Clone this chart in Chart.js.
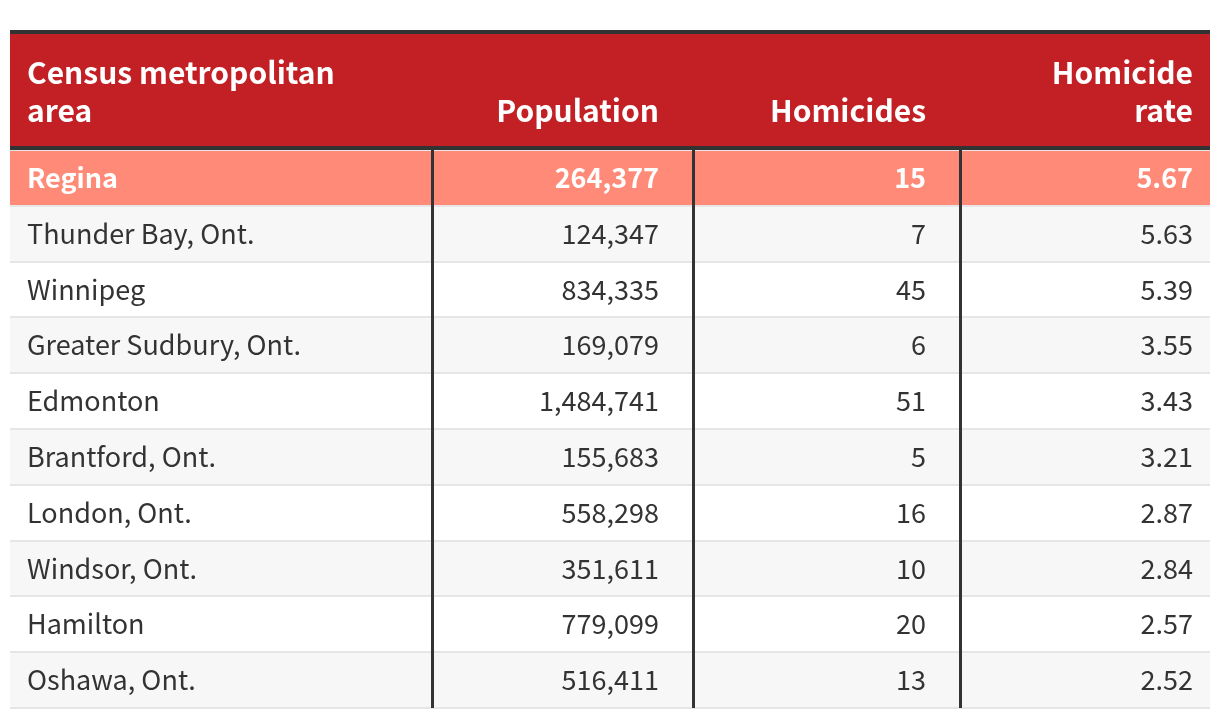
<!DOCTYPE html>
<html>
<head>
<meta charset="utf-8">
<script src="https://cdn.jsdelivr.net/npm/chart.js@4.4.0/dist/chart.umd.min.js"></script>
<style>
  html, body { margin: 0; padding: 0; background: #fff; }
</style>
</head>
<body>
<canvas id="tabela" width="1220" height="718"></canvas>
<script>
// dados da tabela
const areas = ["Regina", "Thunder Bay, Ont.", "Winnipeg", "Greater Sudbury, Ont.", "Edmonton",
  "Brantford, Ont.", "London, Ont.", "Windsor, Ont.", "Hamilton", "Oshawa, Ont."];
const populacao = [264377, 124347, 834335, 169079, 1484741, 155683, 558298, 351611, 779099, 516411];
const homicidios = [15, 7, 45, 6, 51, 5, 16, 10, 20, 13];
const taxa = [5.67, 5.63, 5.39, 3.55, 3.43, 3.21, 2.87, 2.84, 2.57, 2.52];
const cabecalhos = [["Census metropolitan", "area"], ["Population"], ["Homicides"], ["Homicide", "rate"]];
const destaque = "Regina";

// layout das colunas
const larguras = [422, 262, 266, 250];
const recuos = [17, 35, 34, 17];
const total = larguras.reduce((a, b) => a + b, 0);
const bordas = [0];
larguras.forEach((l) => bordas.push(bordas[bordas.length - 1] + l));

const FONTE = "'Noto Sans CJK JP', 'Noto Sans', sans-serif";
const ESCURO = "#333333";
const VERMELHO = "#c32026";

function textoCelula(i, c) {
  if (c === 0) return areas[i];
  if (c === 1) return populacao[i].toLocaleString("en-US");
  if (c === 2) return String(homicidios[i]);
  return taxa[i].toFixed(2);
}

function posicaoX(scale, c) {
  return c === 0 ? scale.getPixelForValue(bordas[c]) + recuos[c] : scale.getPixelForValue(bordas[c + 1]) - recuos[c];
}

const tabelaPlugin = {
  id: "tabela",
  afterDraw(chart) {
    const ctx = chart.ctx;
    const x = chart.scales.x;
    const y = chart.scales.y;
    const area = chart.chartArea;
    ctx.save();

    // cabeçalho
    ctx.fillStyle = ESCURO;
    ctx.fillRect(area.left, 30, area.right - area.left, 4);
    ctx.fillStyle = VERMELHO;
    ctx.fillRect(area.left, 34, area.right - area.left, area.top - 38);
    ctx.fillStyle = ESCURO;
    ctx.fillRect(area.left, area.top - 4, area.right - area.left, 4);

    ctx.fillStyle = "#ffffff";
    ctx.font = "bold 30px " + FONTE;
    ctx.textBaseline = "alphabetic";
    cabecalhos.forEach((linhas, c) => {
      ctx.textAlign = c === 0 ? "left" : "right";
      linhas.forEach((t, k) => {
        const base = 122 - (linhas.length - 1 - k) * 38;
        ctx.fillText(t, posicaoX(x, c), base);
      });
    });

    // células
    areas.forEach((nome, i) => {
      const py = y.getPixelForValue(i) + 10;
      const dest = nome === destaque;
      ctx.font = (dest ? "bold " : "") + "27px " + FONTE;
      ctx.fillStyle = dest ? "#ffffff" : ESCURO;
      for (let c = 0; c < 4; c++) {
        ctx.textAlign = c === 0 ? "left" : "right";
        ctx.fillText(textoCelula(i, c), posicaoX(x, c), py);
      }
    });
    ctx.restore();
  },
};

const tabela = new Chart(document.getElementById("tabela"), {
  type: "bar",
  data: {
    labels: areas,
    datasets: [
      {
        data: areas.map(() => [0, total]),
        backgroundColor: areas.map((nome, i) => (nome === destaque ? "#ff8a78" : i % 2 === 1 ? "#f7f7f7" : "#ffffff")),
        borderWidth: 0,
        barPercentage: 1,
        categoryPercentage: 1,
      },
    ],
  },
  options: {
    indexAxis: "y",
    responsive: false,
    animation: false,
    devicePixelRatio: 1,
    layout: { padding: { left: 10, right: 10, top: 150, bottom: 10 } },
    plugins: { legend: { display: false }, tooltip: { enabled: false } },
    scales: {
      x: {
        type: "linear",
        min: 0,
        max: total,
        afterBuildTicks(scale) {
          scale.ticks = bordas.slice(1, -1).map((v) => ({ value: v }));
        },
        ticks: { display: false },
        grid: { color: ESCURO, lineWidth: 3, drawTicks: false, z: 2 },
        border: { display: false },
      },
      y: {
        type: "category",
        offset: true,
        ticks: { display: false },
        grid: {
          offset: true,
          color: (c) => (c.index === areas.length ? "rgba(0,0,0,0)" : "#e6e6e6"),
          lineWidth: 2,
          drawTicks: false,
          z: 1,
        },
        border: { display: false },
      },
    },
  },
  plugins: [tabelaPlugin],
});
</script>
</body>
</html>
